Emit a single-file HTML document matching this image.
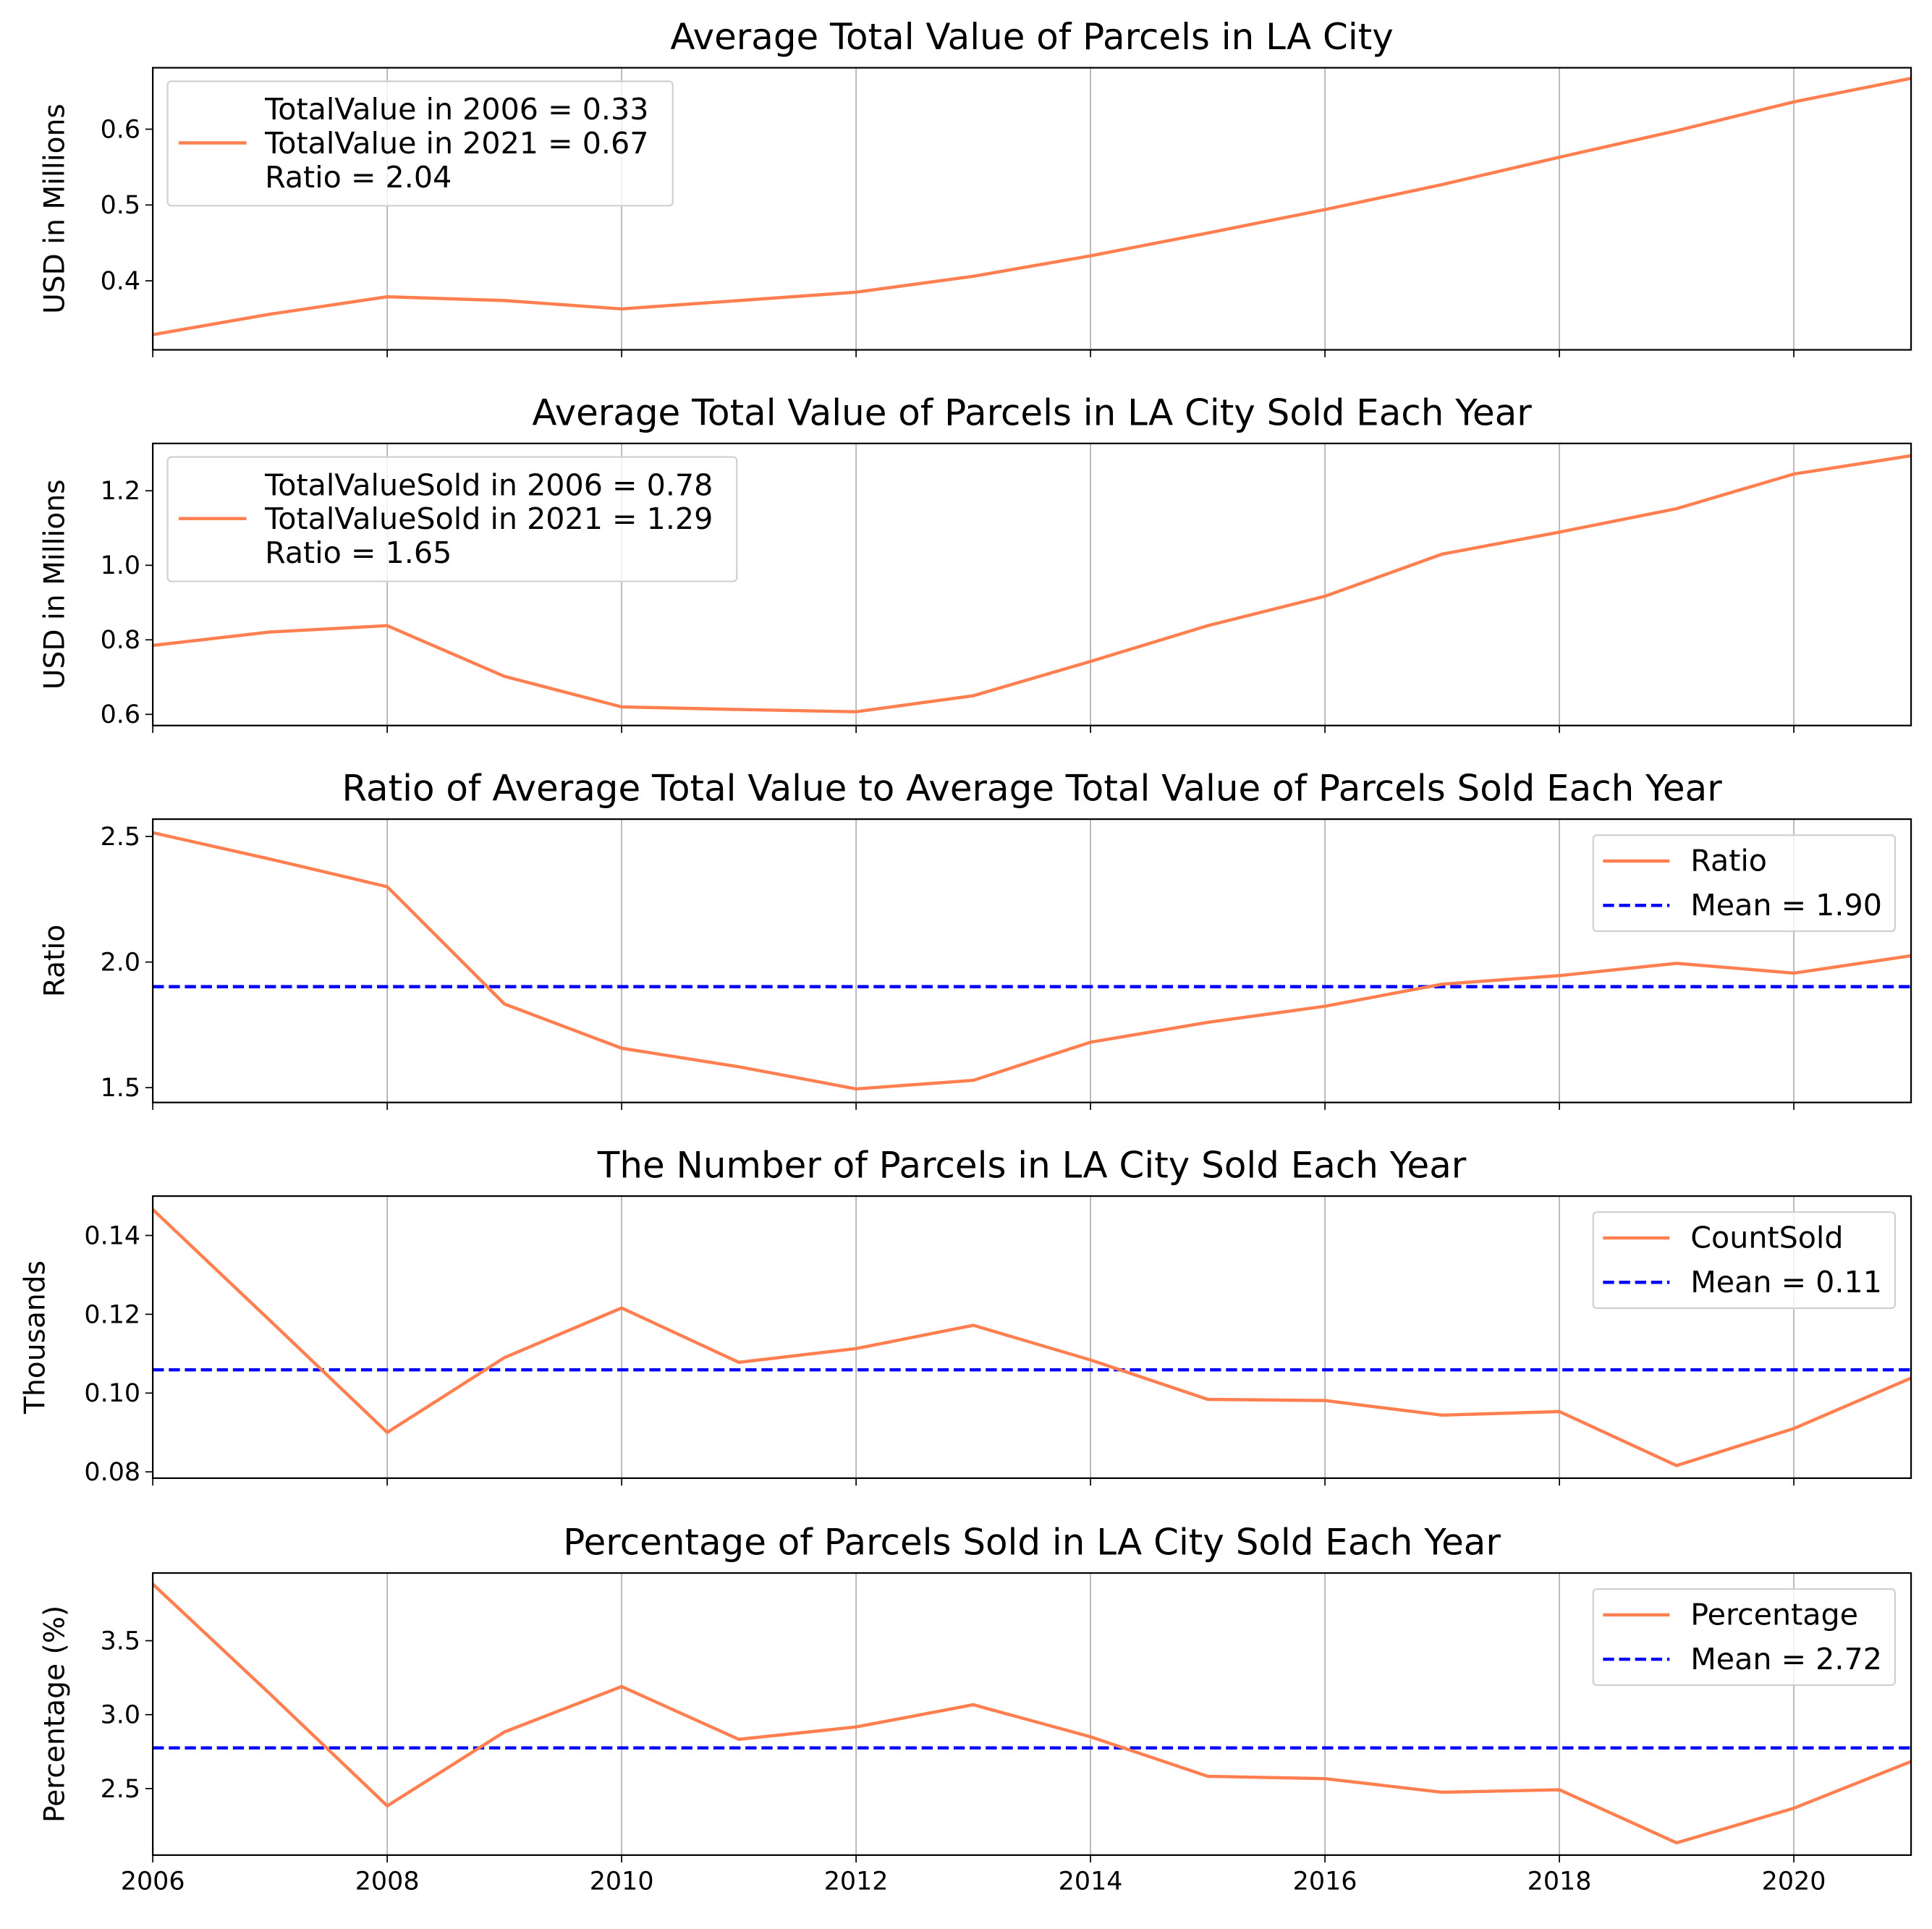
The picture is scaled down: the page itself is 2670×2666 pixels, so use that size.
<!DOCTYPE html>
<html><head><meta charset="utf-8"><style>html,body{margin:0;padding:0;background:#fff}svg{display:block}text{font-family:"DejaVu Sans","Liberation Sans",sans-serif;fill:#000}</style></head>
<body>
<svg id="chart" xmlns="http://www.w3.org/2000/svg" width="2670" height="2666" viewBox="0 0 1568 1566" preserveAspectRatio="none"></svg>
<script>
const years = [2006,2007,2008,2009,2010,2011,2012,2013,2014,2015,2016,2017,2018,2019,2020,2021];
const xTicks = [2006,2008,2010,2012,2014,2016,2018,2020];
const totalValue = [0.329,0.356,0.379,0.374,0.363,0.374,0.385,0.406,0.433,0.463,0.494,0.527,0.563,0.598,0.636,0.667];
const totalValueSold = [0.785,0.821,0.838,0.702,0.620,0.613,0.607,0.650,0.742,0.838,0.917,1.030,1.089,1.152,1.245,1.294];
const ratio = [2.515,2.41,2.30,1.833,1.657,1.583,1.495,1.529,1.681,1.76,1.824,1.912,1.946,1.995,1.956,2.025];
const countSold = [0.1466,0.1184,0.090,0.109,0.1216,0.1078,0.1113,0.1172,0.1084,0.0984,0.0981,0.0944,0.0953,0.0816,0.091,0.1038];
const percentage = [3.883,3.14,2.383,2.883,3.19,2.833,2.917,3.067,2.85,2.583,2.567,2.475,2.492,2.133,2.367,2.683];
const ratioMean = 1.902, countMean = 0.1059, pctMean = 2.775;
const ticks1 = ["0.4","0.5","0.6"], ticks2 = ["0.6","0.8","1.0","1.2"], ticks3 = ["1.5","2.0","2.5"], ticks4 = ["0.08","0.10","0.12","0.14"], ticks5 = ["2.5","3.0","3.5"];

const NS="http://www.w3.org/2000/svg", svg=document.getElementById('chart');
function mk(tag,attrs,parent){const e=document.createElementNS(NS,tag);for(const k in attrs)e.setAttribute(k,attrs[k]);(parent||svg).appendChild(e);return e;}
const L=124,R=1551, FT=20.5, FY=23, FTI=29.3, FL=24.2;
const xs=y=>L+(y-2006)*(R-L)/15;
const panels=[
 {top:55,bot:284,min:0.309,max:0.681,data:totalValue,ticks:ticks1,title:"Average Total Value of Parcels in LA City",ylab:"USD in Millions",name:"total-value"},
 {top:360,bot:589,min:0.570,max:1.327,data:totalValueSold,ticks:ticks2,title:"Average Total Value of Parcels in LA City Sold Each Year",ylab:"USD in Millions",name:"total-value-sold"},
 {top:665,bot:895,min:1.441,max:2.569,data:ratio,ticks:ticks3,mean:ratioMean,title:"Ratio of Average Total Value to Average Total Value of Parcels Sold Each Year",ylab:"Ratio",name:"ratio",leg:["Ratio","Mean = 1.90"]},
 {top:971,bot:1200,min:0.0784,max:0.150,data:countSold,ticks:ticks4,mean:countMean,title:"The Number of Parcels in LA City Sold Each Year",ylab:"Thousands",name:"count-sold",leg:["CountSold","Mean = 0.11"]},
 {top:1277,bot:1506,min:2.05,max:3.958,data:percentage,ticks:ticks5,mean:pctMean,title:"Percentage of Parcels Sold in LA City Sold Each Year",ylab:"Percentage (%)",name:"percentage",leg:["Percentage","Mean = 2.72"]}
];
panels.forEach((p,i)=>{
 const g=mk('g',{});
 
 
 const ys=v=>p.bot-(v-p.min)*(p.bot-p.top)/(p.max-p.min);
 xTicks.forEach(t=>{
  const gl=mk('line',{x1:xs(t),x2:xs(t),y1:p.top,y2:p.bot,stroke:'#b0b0b0','stroke-width':1},g);
  
  
  mk('line',{x1:xs(t),x2:xs(t),y1:p.bot,y2:p.bot+6,stroke:'#000','stroke-width':1},g);
  if(i===4){const tl=mk('text',{x:xs(t),y:p.bot+28,'font-size':FT,'text-anchor':'middle'},g);tl.textContent=t;
   
   }
 });
 p.ticks.forEach(t=>{
  const y=ys(parseFloat(t));
  mk('line',{x1:L-6,x2:L,y1:y,y2:y,stroke:'#000','stroke-width':1},g);
  const tl=mk('text',{x:L-10,y:y+7,'font-size':FT,'text-anchor':'end'},g);tl.textContent=t;
  
  
 });
 if(p.mean!==undefined){
  const ml=mk('line',{x1:L,x2:R,y1:ys(p.mean),y2:ys(p.mean),stroke:'#0000ff','stroke-width':2.6,'stroke-dasharray':'9,4'},g);
  
  
 }
 const pl=mk('polyline',{points:p.data.map((v,k)=>xs(years[k])+','+ys(v)).join(' '),fill:'none',stroke:'#ff7f50','stroke-width':2.6},g);
 
 
 const fr=mk('rect',{x:L,y:p.top,width:R-L,height:p.bot-p.top,fill:'none',stroke:'#000','stroke-width':1.3},g);
 
 
 const ti=mk('text',{x:(L+R)/2,y:p.top-15,'font-size':FTI,'text-anchor':'middle'},g);ti.textContent=p.title;
 
 
 const cy=(p.top+p.bot)/2, lx=i===3?36:52;
 const yl=mk('text',{x:lx,y:cy,'font-size':FY,'text-anchor':'middle',transform:`rotate(-90 ${lx} ${cy})`},g);yl.textContent=p.ylab;
 
 
 const lg=mk('g',{},g);
 
 
 if(p.leg){
  const bx=1293,by=p.top+13;
  mk('rect',{x:bx,y:by,width:245,height:78,rx:3,fill:'#fff','fill-opacity':0.8,stroke:'#d0d0d0','stroke-width':1.3},lg);
  mk('line',{x1:bx+8,x2:bx+62,y1:by+21,y2:by+21,stroke:'#ff7f50','stroke-width':2.6},lg);
  mk('line',{x1:bx+8,x2:bx+62,y1:by+57,y2:by+57,stroke:'#0000ff','stroke-width':2.6,'stroke-dasharray':'9,4'},lg);
  [0,1].forEach(k=>{const t=mk('text',{x:bx+79,y:by+29+k*36,'font-size':FL},lg);t.textContent=p.leg[k];
   
   });
 } else {
  const key=i===0?'TotalValue':'TotalValueSold';
  const rat=i===0?'2.04':'1.65', w=i===0?410:462;
  const by=p.top+11;
  mk('rect',{x:136,y:by,width:w,height:101,rx:3,fill:'#fff','fill-opacity':0.8,stroke:'#d0d0d0','stroke-width':1.3},lg);
  mk('line',{x1:145,x2:200,y1:by+50,y2:by+50,stroke:'#ff7f50','stroke-width':2.6},lg);
  [key+' in 2006 = '+(i===0?'0.33':'0.78'),key+' in 2021 = '+(i===0?'0.67':'1.29'),'Ratio = '+rat].forEach((s,k)=>{
   const t=mk('text',{x:215,y:by+31+k*27.5,'font-size':FL},lg);t.textContent=s;
   
   
  });
 }
});
</script>
</body></html>
